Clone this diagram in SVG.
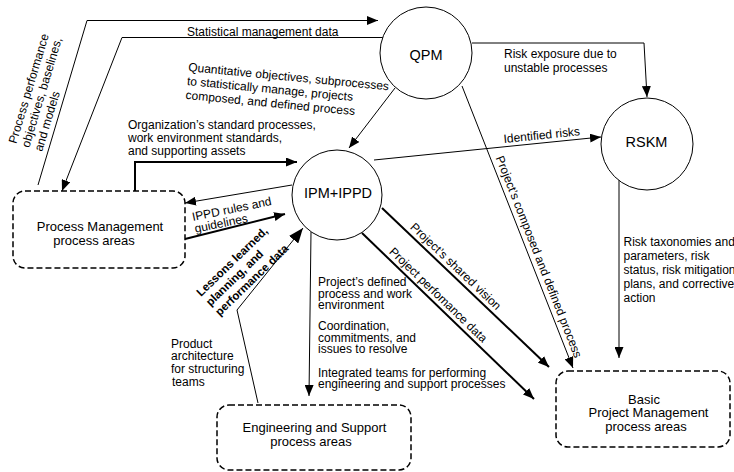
<svg xmlns="http://www.w3.org/2000/svg" width="734" height="472" viewBox="0 0 734 472">
<style>
text{font-family:"Liberation Sans",Arial,Helvetica,sans-serif;font-size:12px;fill:#000}
.node{font-size:14.5px;text-anchor:middle}
.box{font-size:13px;text-anchor:middle}
.circ{fill:#fff;stroke:#000;stroke-width:1}
.dash{fill:#fff;stroke:#000;stroke-width:1.5;stroke-dasharray:6 3}
.c{fill:none;stroke:#000;stroke-width:1}
.t{stroke-width:2}
.b{font-weight:bold;font-size:11.5px}
</style>
<defs>
<marker id="ah" markerUnits="userSpaceOnUse" markerWidth="11" markerHeight="9" refX="11" refY="4.5" orient="auto"><path d="M0,0 L11,4.5 L0,9 z" fill="#000"/></marker>
<marker id="ahL" markerUnits="userSpaceOnUse" markerWidth="15" markerHeight="12" refX="15" refY="6" orient="auto"><path d="M0,0 L15,6 L0,12 z" fill="#000"/></marker>
</defs>
<rect width="734" height="472" fill="#fff"/>

<g id="connectors">
<polyline class="c" points="38,185 87,20.5 378,20.5" marker-end="url(#ah)"/>
<polyline class="c" points="383,37.5 122,37.5 62,191" marker-end="url(#ah)"/>
<line class="c" x1="395" y1="88" x2="349" y2="148" stroke-width="1.2" marker-end="url(#ah)"/>
<polyline class="c" points="472,43 644,43 647,97" marker-end="url(#ah)"/>
<line class="c" x1="462" y1="86" x2="573" y2="368" marker-end="url(#ah)"/>
<line class="c" x1="374" y1="160" x2="601" y2="137" stroke-width="1.3" marker-end="url(#ah)"/>
<polyline class="c t" points="135,191 135,162 297,162" marker-end="url(#ah)"/>
<line class="c" x1="292" y1="185" x2="185" y2="203" marker-end="url(#ah)"/>
<line class="c t" x1="185" y1="239" x2="285" y2="214" marker-end="url(#ah)"/>
<polyline class="c" points="258,403 237,310 303,228" marker-end="url(#ahL)"/>
<line class="c" x1="311" y1="232" x2="309" y2="396" marker-end="url(#ah)"/>
<line class="c t" x1="382" y1="208" x2="549" y2="367" marker-end="url(#ah)"/>
<line class="c t" x1="362" y1="233" x2="534" y2="399" marker-end="url(#ah)"/>
<line class="c" x1="619" y1="180" x2="619" y2="358" marker-end="url(#ah)"/>
</g>

<g id="node-qpm">
<circle class="circ" cx="426" cy="53" r="46"/>
<text class="node" x="426" y="60">QPM</text>
</g>
<g id="node-rskm">
<circle class="circ" cx="647" cy="144" r="46"/>
<text class="node" x="646.5" y="146.5">RSKM</text>
</g>
<g id="node-ipm">
<circle class="circ" cx="337" cy="195" r="45"/>
<text class="node" x="338" y="198.3">IPM+IPPD</text>
</g>
<g id="node-pm">
<rect class="dash" x="13" y="191" width="172" height="77" rx="12"/>
<text class="box" x="100" y="231">Process Management</text>
<text class="box" x="94" y="245">process areas</text>
</g>
<g id="node-eng">
<rect class="dash" x="217" y="405" width="194" height="65" rx="12"/>
<text class="box" x="314.5" y="432">Engineering and Support</text>
<text class="box" x="311" y="446">process areas</text>
</g>
<g id="node-bpm">
<rect class="dash" x="556" y="371" width="174" height="76" rx="12"/>
<text class="box" x="644" y="403.5" font-size="12.5">Basic</text>
<text class="box" x="648.5" y="417" font-size="12.5">Project Management</text>
<text class="box" x="646" y="430.5" font-size="12.5">process areas</text>
</g>

<g id="labels">
<text transform="translate(16.2,144.3) rotate(-73.3)"><tspan x="0" y="0">Process performance</tspan><tspan x="0" y="13.5">objectives, baselines,</tspan><tspan x="0" y="27">and models</tspan></text>
<text x="187" y="36">Statistical management data</text>
<text transform="translate(188,71) rotate(5.5)"><tspan x="0" y="0">Quantitative objectives, subprocesses</tspan><tspan x="0" y="14">to statistically manage, projects</tspan><tspan x="0" y="28">composed, and defined process</tspan></text>
<text x="128"><tspan x="128" y="129">Organization’s standard processes,</tspan><tspan x="128" y="142">work environment standards,</tspan><tspan x="128" y="155">and supporting assets</tspan></text>
<text x="504"><tspan x="504" y="58">Risk exposure due to</tspan><tspan x="504" y="71.5">unstable processes</tspan></text>
<text transform="translate(504,143) rotate(-5.8)">Identified risks</text>
<text transform="translate(193,221) rotate(-11.5)"><tspan x="0" y="0">IPPD rules and</tspan><tspan x="0" y="12">guidelines</tspan></text>
<text class="b" transform="translate(201,297) rotate(-44)"><tspan x="0" y="0">Lessons learned,</tspan><tspan x="0" y="13.5">planning, and</tspan><tspan x="0" y="27">performance data</tspan></text>
<text transform="translate(495.6,157.7) rotate(68.5)">Project’s composed and defined process</text>
<text transform="translate(409.6,228) rotate(43.6)">Project’s shared vision</text>
<text transform="translate(388.5,252.4) rotate(44)">Project perfomance data</text>
<text><tspan x="318" y="286">Project’s defined</tspan><tspan x="318" y="297.7">process and work</tspan><tspan x="318" y="309.4">environment</tspan></text>
<text><tspan x="318" y="330">Coordination,</tspan><tspan x="318" y="341.7">commitments,  and</tspan><tspan x="318" y="353.4">issues to resolve</tspan></text>
<text><tspan x="318" y="376.5">Integrated teams for performing</tspan><tspan x="318" y="388">engineering and support processes</tspan></text>
<text><tspan x="171" y="347.5">Product</tspan><tspan x="171" y="360.3">architecture</tspan><tspan x="171" y="373.1">for structuring</tspan><tspan x="172" y="385.9">teams</tspan></text>
<text font-size="11.2"><tspan x="623.5" y="245.5">Risk taxonomies and</tspan><tspan x="623.5" y="259.5">parameters, risk</tspan><tspan x="623.5" y="273.5">status, risk mitigation</tspan><tspan x="623.5" y="287.5">plans, and corrective</tspan><tspan x="623.5" y="301.5">action</tspan></text>
</g>
</svg>
